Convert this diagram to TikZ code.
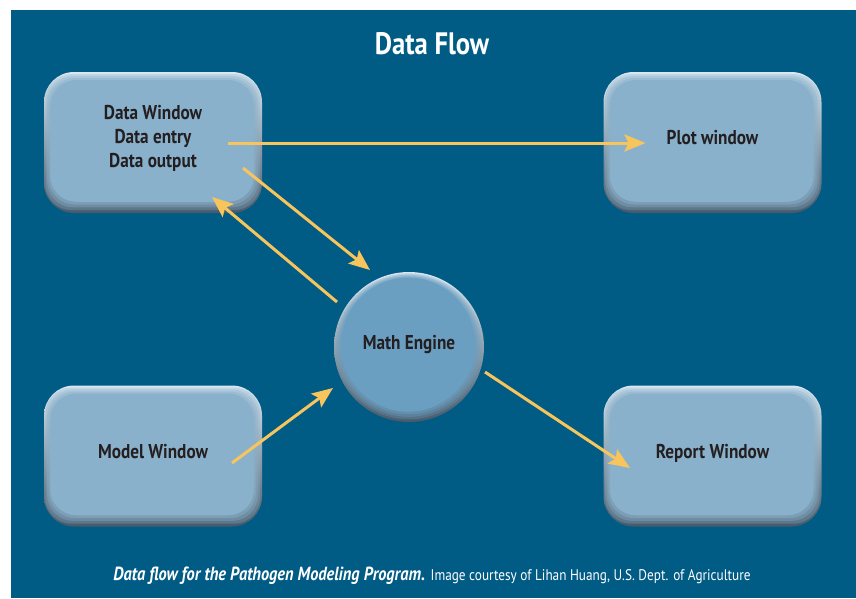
\documentclass[tikz,border=0pt]{standalone}
\usepackage{fontspec}
\setmainfont{PT Sans}[FakeStretch=0.86]
\usetikzlibrary{arrows.meta,calc}

\definecolor{bgblue}{HTML}{005B85}
\definecolor{boxface}{HTML}{8AB1CB}
\definecolor{boxlight}{HTML}{D9E8F2}
\definecolor{boxdark}{HTML}{465A6B}
\definecolor{mathface}{HTML}{6B9FC1}
\definecolor{flowyellow}{HTML}{F8C45C}
\definecolor{inktext}{HTML}{231F20}

\begin{document}
\begin{tikzpicture}[x=1pt, y=-1pt, >={Stealth[length=21pt,width=17pt,inset=4pt]},
    winbox/.style={rectangle, rounded corners=30pt, minimum width=218pt, minimum height=141pt,
        top color=boxlight, middle color=boxface, bottom color=boxdark,
        font=\bfseries\fontsize{20}{24}\selectfont, text=inktext, align=center, text depth=13pt,
        path picture={
            \foreach \ins/\op in {2/0.3,4/0.35,6/0.45,8/1} {
                \fill[boxface, opacity=\op, rounded corners=26pt]
                    ($(path picture bounding box.north west)+(0.8*\ins,\ins)$) rectangle
                    ($(path picture bounding box.south east)+(-\ins,-1.4*\ins)$);
            }
        }},
    enginebox/.style={circle, minimum size=150pt, inner sep=0pt,
        top color=boxlight, middle color=mathface, bottom color=boxdark,
        font=\bfseries\fontsize{20}{24}\selectfont, text=inktext, text depth=9pt,
        path picture={
            \foreach \ins/\op in {2/0.3,4/0.35,6/0.45,8/1} {
                \fill[mathface, opacity=\op]
                    ($(path picture bounding box.center)+(-0.1*\ins,-0.3*\ins)$) circle ({75-\ins});
            }
        }},
    flow/.style={->, flowyellow, line width=3pt}]

    % Rahmen
    \useasboundingbox (0,0) rectangle (856,598);
    \fill[bgblue] (11,10) rectangle (856,598);

    % Titel
    \node[white, font=\bfseries\fontsize{31}{36}\selectfont] (title) at (432,44) {Data Flow};

    % Fenster und Rechenkern
    \node[winbox] (data) at (153,142.5) {Data Window\\Data entry\\Data output};
    \node[winbox, text depth=10pt] (plot) at (712.5,142.5) {Plot window};
    \node[winbox, text depth=10pt] (model) at (153,456) {Model Window};
    \node[winbox, text depth=10pt] (report) at (712.5,456) {Report Window};
    \node[enginebox] (math) at (409,347) {Math Engine};

    % Datenfluss
    \draw[flow] ($(data.center)+(75,0.5)$) -- ($(plot.center)+(-67,0.5)$);
    \draw[flow] ($(data.center)+(90,25.5)$) -- ($(math.center)+(-39,-77)$);
    \draw[flow] ($(math.center)+(-72,-45)$) -- ($(data.center)+(59,54.5)$);
    \draw[flow] ($(model.center)+(79,7)$) -- ($(math.center)+(-76,41)$);
    \draw[flow] ($(math.center)+(76,25)$) -- ($(report.center)+(-82.5,12)$);

    % Bildunterschrift
    \node[white] (caption) at (432,576)
        {\bfseries\itshape\fontsize{19}{21}\selectfont Data flow for the Pathogen Modeling Program.
         \normalfont\fontsize{15.4}{17}\selectfont Image courtesy of Lihan Huang, U.S. Dept. of Agriculture};
\end{tikzpicture}
\end{document}
